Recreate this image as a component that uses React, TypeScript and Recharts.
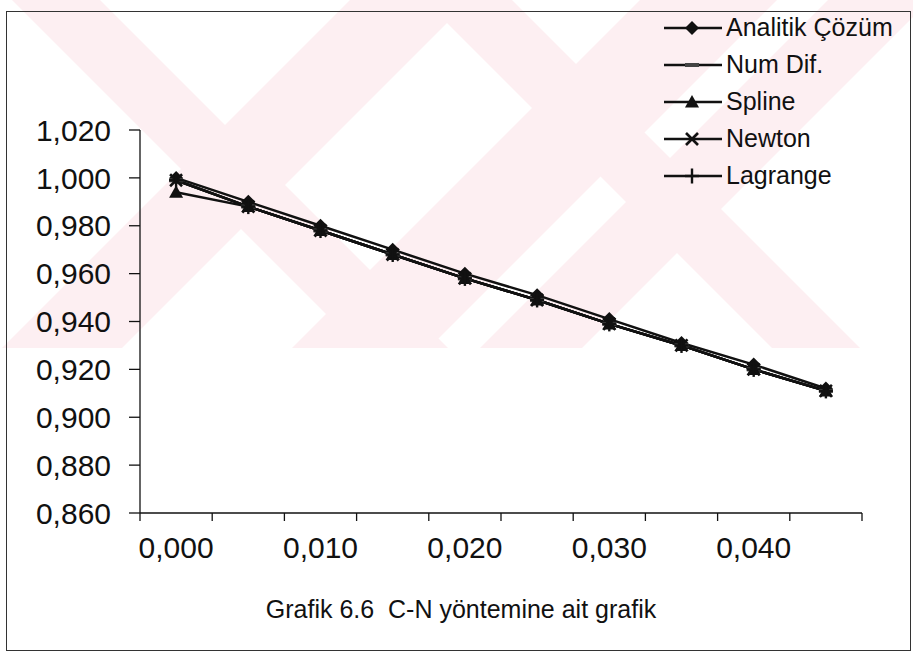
import React from 'react';
import { LineChart, Line, XAxis, YAxis, Legend, Label } from 'recharts';

// ---- data ----
const xValues = [0, 0.005, 0.01, 0.015, 0.02, 0.025, 0.03, 0.035, 0.04, 0.045];
const analitik = [1.0, 0.99, 0.98, 0.97, 0.96, 0.951, 0.941, 0.931, 0.922, 0.912];
const numDif = [0.999, 0.988, 0.978, 0.968, 0.958, 0.949, 0.939, 0.93, 0.92, 0.911];
const spline = [0.994, 0.988, 0.978, 0.968, 0.958, 0.949, 0.939, 0.93, 0.92, 0.911];
const newton = [0.999, 0.988, 0.978, 0.968, 0.958, 0.949, 0.939, 0.93, 0.92, 0.911];
const lagrange = [0.999, 0.988, 0.978, 0.968, 0.958, 0.949, 0.939, 0.93, 0.92, 0.911];

const seriesKeys = ['analitik', 'numDif', 'spline', 'newton', 'lagrange'];
const seriesNames = ['Analitik Çözüm', 'Num Dif.', 'Spline', 'Newton', 'Lagrange'];
const yTicks = [0.86, 0.88, 0.9, 0.92, 0.94, 0.96, 0.98, 1.0, 1.02];
const xLabelTicks = [0, 0.01, 0.02, 0.03, 0.04];
const xBoundaryTicks = [-0.0025, 0.0025, 0.0075, 0.0125, 0.0175, 0.0225, 0.0275, 0.0325, 0.0375, 0.0425, 0.0475];
const xAxisTitle = 'Grafik 6.6\u00A0\u00A0C-N yöntemine ait grafik';

const data = xValues.map((x, i) => ({
  x,
  analitik: analitik[i],
  numDif: numDif[i],
  spline: spline[i],
  newton: newton[i],
  lagrange: lagrange[i],
}));

const FONT = "'Liberation Sans', Arial, sans-serif";
const INK = '#111';
const fmt = (v: number) => v.toFixed(3).replace('.', ',');
const allXTicks = [...xBoundaryTicks, ...xLabelTicks].sort((a, b) => a - b);

// ---- markers ----
const shapeFor = (kind: string, cx: number, cy: number, key?: any) => {
  switch (kind) {
    case 'analitik':
      return <path key={key} d={`M${cx},${cy - 7}L${cx + 7},${cy}L${cx},${cy + 7}L${cx - 7},${cy}Z`} fill={INK} />;
    case 'numDif':
      return <rect key={key} x={cx - 7} y={cy - 2} width={14} height={4} fill="#444" />;
    case 'spline':
      return <path key={key} d={`M${cx},${cy - 7}L${cx + 7},${cy + 5.5}L${cx - 7},${cy + 5.5}Z`} fill={INK} />;
    case 'newton':
      return (
        <g key={key} stroke={INK} strokeWidth={2.6}>
          <line x1={cx - 6} y1={cy - 6} x2={cx + 6} y2={cy + 6} />
          <line x1={cx - 6} y1={cy + 6} x2={cx + 6} y2={cy - 6} />
        </g>
      );
    default:
      return (
        <g key={key} stroke={INK} strokeWidth={2.4}>
          <line x1={cx - 7} y1={cy} x2={cx + 7} y2={cy} />
          <line x1={cx} y1={cy - 7.5} x2={cx} y2={cy + 7.5} />
        </g>
      );
  }
};

const dotFor = (kind: string) => (p: any) => shapeFor(kind, p.cx, p.cy, `${kind}-${p.index}`);

const XTick = (props: any) => {
  const { x, y, payload } = props;
  const v = payload.value as number;
  const isLabel = xLabelTicks.some((t) => Math.abs(t - v) < 1e-9);
  if (isLabel) {
    return (
      <text x={x} y={y + 34} textAnchor="middle" dominantBaseline="central" fontSize={30} fontFamily={FONT} fill={INK}>
        {fmt(v)}
      </text>
    );
  }
  return <line x1={x} x2={x} y1={y} y2={y + 8} stroke={INK} strokeWidth={1.3} />;
};

const TitleContent = (props: any) => {
  const vb = props.viewBox || {};
  return (
    <text
      x={vb.x + vb.width / 2 - 40}
      y={vb.y + vb.height - 5}
      textAnchor="middle"
      fontSize={25}
      fontFamily={FONT}
      fill={INK}
      style={{ whiteSpace: 'pre' }}
    >
      {xAxisTitle}
    </text>
  );
};

const LegendContent = (props: any) => {
  const payload = props.payload || [];
  const ordered = seriesKeys
    .map((k) => payload.find((e: any) => e.dataKey === k))
    .filter(Boolean);
  return (
    <div style={{ fontFamily: FONT, fontSize: 25, color: INK }}>
      {ordered.map((e: any) => (
        <div key={e.dataKey} style={{ display: 'flex', alignItems: 'center', height: 37 }}>
          <svg width={62} height={20} style={{ display: 'block' }}>
            <line x1={0} x2={58} y1={10} y2={10} stroke={INK} strokeWidth={2.4} />
            {shapeFor(e.dataKey, 28, 10)}
          </svg>
          <span style={{ lineHeight: '37px', whiteSpace: 'nowrap' }}>{e.value}</span>
        </div>
      ))}
    </div>
  );
};

// decorative scan watermark (very light pink diagonal strokes, cut off at y=348)
const WM_H = 348;
const downRight = [
  [12, 100],
  [424, 512],
];
const downLeft = [
  [350, 470],
  [640, 777],
  [828, 930],
];

const Watermark = () => (
  <svg width={913} height={658} style={{ position: 'absolute', left: 0, top: 0 }}>
    <defs>
      <clipPath id="wmclip">
        <rect x={0} y={0} width={913} height={WM_H} />
      </clipPath>
    </defs>
    <g clipPath="url(#wmclip)" fill="#fdeff2">
      {downRight.map(([a, b], i) => (
        <polygon key={`r${i}`} points={`${a},0 ${b},0 ${b + WM_H},${WM_H} ${a + WM_H},${WM_H}`} />
      ))}
      {downLeft.map(([a, b], i) => (
        <polygon key={`l${i}`} points={`${a},0 ${b},0 ${b - WM_H},${WM_H} ${a - WM_H},${WM_H}`} />
      ))}
    </g>
  </svg>
);

export default function App() {
  return (
    <div style={{ position: 'absolute', left: 0, top: 0, width: 913, height: 658, background: '#fff', overflow: 'hidden' }}>
      <Watermark />
      <div
        style={{
          position: 'absolute',
          left: 6,
          top: 11,
          width: 905,
          height: 640,
          border: '1.5px solid #333',
          boxSizing: 'border-box',
        }}
      />
      <div style={{ position: 'absolute', left: 0, top: 0 }}>
        <LineChart width={913} height={658} data={data} margin={{ top: 130, right: 51, bottom: 35, left: 0 }}>
          <XAxis
            dataKey="x"
            type="number"
            domain={[-0.0025, 0.0475]}
            ticks={allXTicks}
            interval={0}
            tick={<XTick />}
            tickSize={0}
            tickMargin={0}
            tickLine={false}
            axisLine={{ stroke: INK, strokeWidth: 1.3 }}
            height={110}
            allowDataOverflow
          >
            <Label position="insideBottom" content={<TitleContent />} />
          </XAxis>
          <YAxis
            type="number"
            domain={[0.86, 1.02]}
            ticks={yTicks}
            interval={0}
            width={140}
            tickSize={11}
            tickMargin={18}
            tickFormatter={fmt}
            tick={{ fontSize: 30, fontFamily: FONT, fill: INK }}
            tickLine={{ stroke: INK, strokeWidth: 1.3 }}
            axisLine={{ stroke: INK, strokeWidth: 1.3 }}
            allowDataOverflow
          />
          <Legend
            layout="vertical"
            align="center"
            verticalAlign="middle"
            content={<LegendContent />}
            wrapperStyle={{ top: 9, left: 664, width: 249, right: 'auto', bottom: 'auto' }}
          />
          <Line dataKey="analitik" name={seriesNames[0]} stroke={INK} strokeWidth={2.5} dot={dotFor('analitik')} activeDot={false} isAnimationActive={false} />
          <Line dataKey="numDif" name={seriesNames[1]} stroke={INK} strokeWidth={2.5} dot={dotFor('numDif')} activeDot={false} isAnimationActive={false} />
          <Line dataKey="spline" name={seriesNames[2]} stroke={INK} strokeWidth={2.5} dot={dotFor('spline')} activeDot={false} isAnimationActive={false} />
          <Line dataKey="newton" name={seriesNames[3]} stroke={INK} strokeWidth={2.5} dot={dotFor('newton')} activeDot={false} isAnimationActive={false} />
          <Line dataKey="lagrange" name={seriesNames[4]} stroke={INK} strokeWidth={2.5} dot={dotFor('lagrange')} activeDot={false} isAnimationActive={false} />
        </LineChart>
      </div>
    </div>
  );
}
